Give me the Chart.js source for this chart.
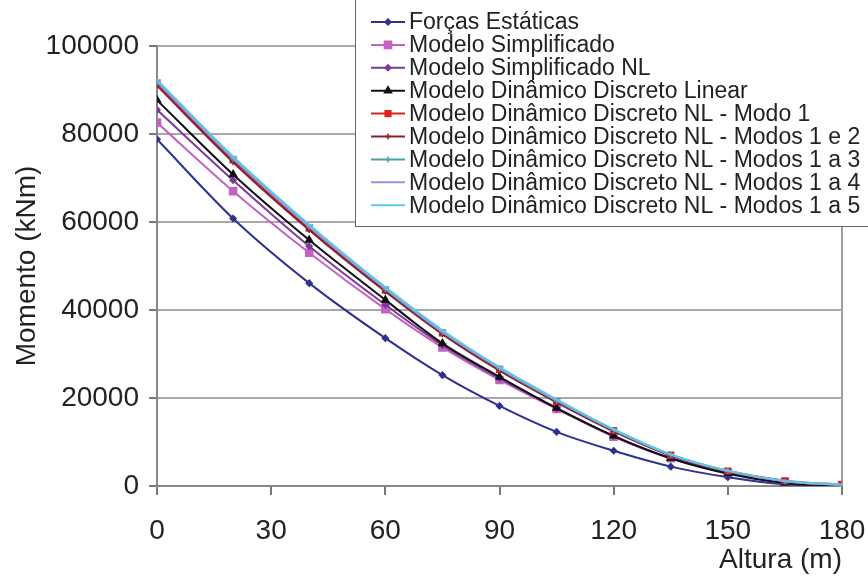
<!DOCTYPE html>
<html>
<head>
<meta charset="utf-8">
<script src="https://cdn.jsdelivr.net/npm/chart.js@4"></script>
<style>
  html, body { margin: 0; padding: 0; background: #fff; }
  #wrap { width: 868px; height: 577px; position: relative; }
</style>
</head>
<body>
<div id="wrap"><canvas id="momentoChart" width="868" height="577"></canvas></div>
<script>
// Altura (m) dos pontos
const alturas = [0, 20, 40, 60, 75, 90, 105, 120, 135, 150, 165, 180];

// Momento (kNm)
const forcasEstaticas   = [78800, 60800, 46100, 33600, 25200, 18200, 12300, 8000, 4400, 2000, 400, 0];
const simplificado      = [82600, 67000, 53000, 40200, 31500, 24100, 17500, 11200, 6300, 3000, 900, 200];
const simplificadoNL    = [85500, 69500, 54500, 41200, 32000, 24500, 17700, 11300, 6300, 3000, 900, 0];
const dinamicoLinear    = [87700, 70800, 55900, 42300, 32400, 24800, 17700, 11400, 6300, 2800, 700, 0];
const nlModo1           = [91500, 74100, 58600, 44500, 34800, 26500, 19200, 12600, 7000, 3400, 1200, 300];
const nlModos1e2        = [91000, 73600, 58200, 44200, 34500, 26200, 19000, 12400, 6900, 3300, 1100, 200];
const nlModos1a3        = [91800, 74400, 58900, 44800, 35000, 26700, 19400, 12700, 7100, 3400, 1100, 200];
const nlModos1a4        = [91900, 74500, 59000, 44900, 35100, 26800, 19500, 12800, 7100, 3400, 1100, 200];
const nlModos1a5        = [92300, 74900, 59400, 45200, 35400, 27000, 19700, 12900, 7200, 3500, 1200, 300];

const FONT = '"Liberation Sans", Arial, sans-serif';

function pts(values) {
    return values.map((v, i) => ({ x: alturas[i], y: v }));
}

const series = [
    { label: 'Forças Estáticas', data: forcasEstaticas, color: '#2e3192', style: 'rectRot', r: 3 },
    { label: 'Modelo Simplificado', data: simplificado, color: '#c462c4', style: 'rect', r: 5 },
    { label: 'Modelo Simplificado NL', data: simplificadoNL, color: '#7f3a9c', style: 'rectRot', r: 3 },
    { label: 'Modelo Dinâmico Discreto Linear', data: dinamicoLinear, color: '#111111', style: 'triangle', r: 4 },
    { label: 'Modelo Dinâmico Discreto NL - Modo 1', data: nlModo1, color: '#e0201c', style: 'rect', r: 4 },
    { label: 'Modelo Dinâmico Discreto NL - Modos 1 e 2', data: nlModos1e2, color: '#8b2030', style: 'cross', r: 3 },
    { label: 'Modelo Dinâmico Discreto NL - Modos 1 a 3', data: nlModos1a3, color: '#4aa3a0', style: 'cross', r: 3 },
    { label: 'Modelo Dinâmico Discreto NL - Modos 1 a 4', data: nlModos1a4, color: '#9a96d8', style: 'circle', r: 0 },
    { label: 'Modelo Dinâmico Discreto NL - Modos 1 a 5', data: nlModos1a5, color: '#5cc6ee', style: 'dash', r: 4 }
];

const datasets = series.map((s, i) => ({
    label: s.label,
    data: pts(s.data),
    borderColor: s.color,
    backgroundColor: s.color,
    borderWidth: 2,
    pointStyle: s.style,
    pointRadius: s.r,
    pointBorderWidth: 1.5,
    pointBorderColor: s.color,
    pointBackgroundColor: s.color,
    cubicInterpolationMode: 'monotone',
    order: series.length - i
}));

// Legend drawn as a box in the top right corner, over the grid
const boxLegend = {
    id: 'boxLegend',
    afterDraw(chart) {
        const c = chart.ctx;
        const x0 = 355, y0 = -5, x1 = 880, y1 = 226;
        c.save();
        c.fillStyle = '#fff';
        c.fillRect(x0, y0, x1 - x0, y1 - y0);
        c.strokeStyle = '#666';
        c.lineWidth = 1;
        c.strokeRect(x0 + 0.5, y0 + 0.5, x1 - x0, y1 - y0);
        c.font = '23px ' + FONT;
        c.textBaseline = 'middle';
        series.forEach((s, i) => {
            const y = 22 + i * 22.9;
            c.strokeStyle = s.color;
            c.lineWidth = 2;
            c.beginPath();
            c.moveTo(371, y);
            c.lineTo(405, y);
            c.stroke();
            if (s.r > 0) {
                c.fillStyle = s.color;
                c.strokeStyle = s.color;
                c.lineWidth = 1.5;
                Chart.helpers.drawPoint(c, { pointStyle: s.style, radius: s.r, rotation: 0, borderWidth: 1.5 }, 388, y);
            }
            c.fillStyle = '#222';
            c.fillText(s.label, 409, y + 1);
        });
        c.restore();
    }
};

new Chart(document.getElementById('momentoChart'), {
    type: 'line',
    data: { datasets },
    plugins: [boxLegend],
    options: {
        responsive: false,
        animation: false,
        layout: { padding: { top: 46, right: 0, left: 0, bottom: 0 } },
        plugins: {
            legend: { display: false },
            tooltip: { enabled: false }
        },
        scales: {
            x: {
                type: 'linear',
                min: 0,
                max: 180,
                ticks: {
                    stepSize: 30,
                    color: '#222',
                    font: { family: FONT, size: 28 },
                    padding: 19
                },
                grid: {
                    color: ctx => ctx.tick && ctx.tick.value === 180 ? '#a0a0a0' : 'rgba(0,0,0,0)',
                    tickColor: '#777',
                    tickLength: 9,
                    lineWidth: 2
                },
                border: { color: '#888', width: 2 },
                title: {
                    display: true,
                    text: 'Altura (m)',
                    align: 'end',
                    color: '#222',
                    font: { family: FONT, size: 28 },
                    padding: { top: 0, bottom: 0 }
                },
                afterFit(scale) {
                    scale.height = 91;
                    scale.paddingLeft = 0;
                    scale.paddingRight = 26;
                }
            },
            y: {
                min: 0,
                max: 100000,
                ticks: {
                    stepSize: 20000,
                    color: '#222',
                    font: { family: FONT, size: 28 },
                    padding: 10,
                    callback: v => String(v)
                },
                grid: {
                    color: '#a8a8a8',
                    tickColor: '#777',
                    tickLength: 8,
                    lineWidth: 2
                },
                border: { color: '#888', width: 2 },
                title: {
                    display: true,
                    text: 'Momento (kNm)',
                    color: '#222',
                    font: { family: FONT, size: 28 },
                    padding: { top: 10, bottom: 0 }
                },
                afterFit(scale) { scale.width = 157; }
            }
        }
    }
});
</script>
</body>
</html>
